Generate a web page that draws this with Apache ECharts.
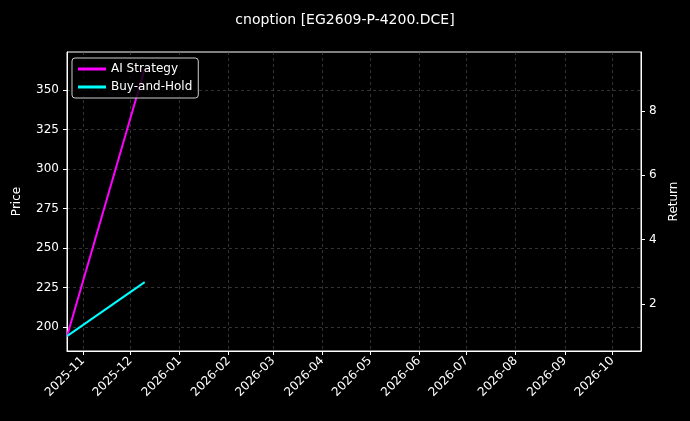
<!DOCTYPE html><html><head><meta charset="utf-8">
<script src="https://cdn.jsdelivr.net/npm/echarts@6/dist/echarts.min.js"></script>
<style>body{margin:0;background:#000}#c{width:690px;height:421px}</style></head><body><div id="c"></div>
<script>
const dates=['2025-10-22','2025-12-10'];
const aiStrategy=[1.0,9.3];
const buyHold=[1.0,2.68];
const priceTicks=[200,225,250,275,300,325,350];
const returnTicks=[2,4,6,8];
const monthTicks=['2025-11-01','2025-12-01','2026-01-01','2026-02-01','2026-03-01','2026-04-01','2026-05-01','2026-06-01','2026-07-01','2026-08-01','2026-09-01','2026-10-01'];
const ts=d=>Date.UTC(+d.slice(0,4),+d.slice(5,7)-1,+d.slice(8,10));
const mt=monthTicks.map(ts);
const font='DejaVu Sans';
const ch=echarts.init(document.getElementById('c'));
const split={show:true,lineStyle:{color:'#555',type:[3,3],width:0.6}};
ch.setOption({
 backgroundColor:'#000',animation:false,textStyle:{fontFamily:font},
 title:{text:'cnoption [EG2609-P-4200.DCE]',left:'center',top:8,textStyle:{color:'#fff',fontSize:14,fontWeight:'normal',fontFamily:font}},
 legend:{left:72,top:58,orient:'vertical',itemWidth:28,itemHeight:3,itemGap:6,padding:[5,6],borderColor:'#ccc',borderWidth:1,borderRadius:3,backgroundColor:'rgba(0,0,0,0.8)',textStyle:{color:'#fff',fontSize:12},icon:'rect'},
 grid:{left:67,right:49,top:52,bottom:70,show:true,borderColor:'#fff',borderWidth:1},
 xAxis:{type:'value',min:ts('2025-10-22'),max:ts('2026-10-19'),
  axisLine:{lineStyle:{color:'#fff'}},
  axisTick:{show:true,customValues:mt,lineStyle:{color:'#fff'},length:4},
  axisLabel:{customValues:mt,rotate:45,color:'#fff',fontSize:12,formatter:v=>{const d=new Date(v);return d.getUTCFullYear()+'-'+String(d.getUTCMonth()+1).padStart(2,'0');}},
  splitLine:split},
 yAxis:[
  {type:'value',min:184.8,max:374,name:'Price',nameLocation:'middle',nameGap:44,nameTextStyle:{color:'#fff',fontSize:12},
   axisLine:{show:true,lineStyle:{color:'#fff'}},axisTick:{show:true,customValues:priceTicks,lineStyle:{color:'#fff'},length:4},
   axisLabel:{customValues:priceTicks,color:'#fff',fontSize:12},splitLine:split},
  {type:'value',min:0.54,max:9.83,name:'Return',nameLocation:'middle',nameGap:24,nameTextStyle:{color:'#fff',fontSize:12},
   axisLine:{show:true,lineStyle:{color:'#fff'}},axisTick:{show:true,customValues:returnTicks,lineStyle:{color:'#fff'},length:4},
   axisLabel:{customValues:returnTicks,color:'#fff',fontSize:12},splitLine:{show:false}}],
 series:[
  {name:'AI Strategy',type:'line',yAxisIndex:1,symbol:'none',lineStyle:{color:'#ff00ff',width:2},itemStyle:{color:'#ff00ff'},data:dates.map((d,i)=>[ts(d),aiStrategy[i]])},
  {name:'Buy-and-Hold',type:'line',yAxisIndex:1,symbol:'none',lineStyle:{color:'#00ffff',width:2},itemStyle:{color:'#00ffff'},data:dates.map((d,i)=>[ts(d),buyHold[i]])}
 ]});
</script></body></html>
